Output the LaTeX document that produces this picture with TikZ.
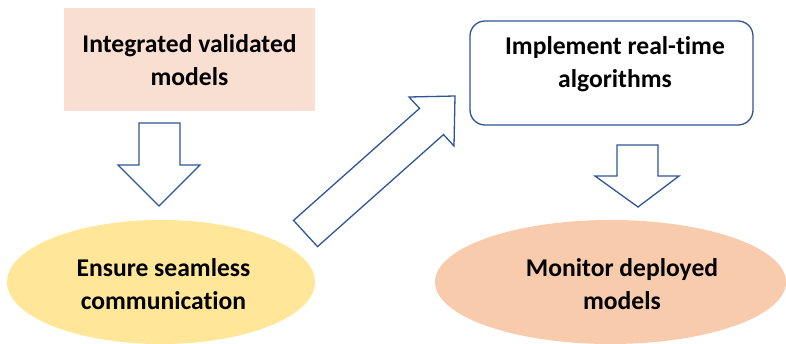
\documentclass[tikz,border=0pt]{standalone}
\usepackage{fontspec}
\setmainfont{Carlito}[Ligatures={NoCommon,NoContextual}]
\usetikzlibrary{shapes.geometric}
\definecolor{boxpeach}{HTML}{F9DFD2}
\definecolor{ellgold}{HTML}{FFE699}
\definecolor{ellorange}{HTML}{F8CBAD}
\definecolor{lineblue}{HTML}{2F5597}
\tikzset{
  lbl/.style={font=\fontsize{25.6}{33}\selectfont\bfseries, anchor=base, inner sep=0pt},
  blockarrow/.style={draw=lineblue, line width=1.3pt, fill=white, line join=miter},
}
\begin{document}
\begin{tikzpicture}[x=1pt,y=-1pt]
\useasboundingbox (0,0) rectangle (786,343);
% shapes
\node[fill=boxpeach, minimum width=251pt, minimum height=103pt, inner sep=0pt] (b1) at (189.5,59.5) {};
\node[draw=lineblue, line width=1.3pt, fill=white, rounded corners=15pt, minimum width=283pt, minimum height=104pt, inner sep=0pt] (b2) at (611.5,73) {};
\node[ellipse, fill=ellgold, minimum width=308pt, minimum height=124pt, inner sep=0pt] (e1) at (161,282) {};
\node[ellipse, fill=ellorange, minimum width=351pt, minimum height=124pt, inner sep=0pt] (e2) at (610.5,282) {};
% texts
\node[lbl] (t1a) at (189.5,52) {Integrated validated};
\node[lbl] (t1b) at (189.5,85) {models};
\node[lbl] (t2a) at (615,54) {Implement real-time};
\node[lbl] (t2b) at (615,87) {algorithms};
\node[lbl] (t3a) at (163.5,276) {Ensure seamless};
\node[lbl] (t3b) at (163.5,309) {communication};
\node[lbl] (t4a) at (622,276) {Monitor deployed};
\node[lbl] (t4b) at (622,309) {models};
% block arrows
\draw[blockarrow] (139,123) -- (180,123) -- (180,165) -- (200,165) -- (159,206) -- (118,165) -- (139,165) -- cycle;
\draw[blockarrow] (617,145) -- (658,145) -- (658,176) -- (679,176) -- (638,207) -- (595,176) -- (617,176) -- cycle;
\draw[blockarrow] (293.5,220.4) -- (419.5,108.4) -- (409,97) -- (455,96) -- (454,146) -- (443.5,134.6) -- (317.5,246.6) -- cycle;
\end{tikzpicture}
\end{document}
